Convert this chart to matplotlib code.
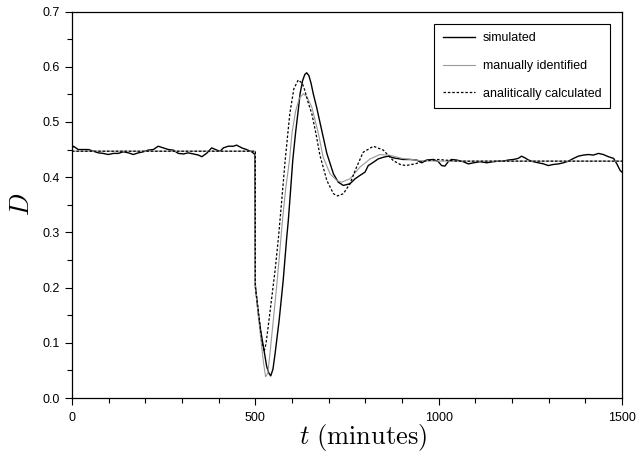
import matplotlib
matplotlib.use('Agg')
import matplotlib.pyplot as plt
from matplotlib.ticker import MultipleLocator, FormatStrFormatter

plt.rcParams['font.family'] = 'Liberation Sans'
plt.rcParams['mathtext.fontset'] = 'cm'

# simulated response
t_sim = [0, 4, 17, 31, 45, 58, 72, 85, 99, 113, 126, 140, 154, 167, 181, 195, 208, 222,
         235, 249, 263, 276, 290, 304, 317, 331, 345, 354, 367, 381, 395, 404, 413, 426,
         440, 449, 463, 476, 490, 499, 500, 508, 515, 522, 531, 537, 542, 548, 554, 565,
         576, 585, 590, 596, 602, 610, 617, 622, 629, 635, 640, 646, 652, 658, 667, 681,
         695, 713, 726, 740, 758, 772, 785, 799, 808, 822, 835, 849, 863, 876, 885, 903,
         922, 940, 954, 967, 986, 999, 1008, 1017, 1026, 1035, 1049, 1067, 1081, 1095,
         1113, 1131, 1149, 1163, 1176, 1190, 1204, 1217, 1226, 1235, 1245, 1258, 1272,
         1286, 1299, 1313, 1327, 1340, 1354, 1368, 1381, 1395, 1408, 1422, 1436, 1449,
         1463, 1477, 1486, 1495, 1500]
D_sim = [0.452, 0.456, 0.450, 0.450, 0.450, 0.447, 0.444, 0.443, 0.441, 0.443, 0.443,
         0.446, 0.444, 0.441, 0.444, 0.446, 0.449, 0.450, 0.456, 0.453, 0.450, 0.449,
         0.443, 0.442, 0.444, 0.442, 0.440, 0.437, 0.443, 0.453, 0.449, 0.447, 0.453,
         0.456, 0.456, 0.458, 0.453, 0.450, 0.446, 0.441, 0.204, 0.153, 0.120, 0.093,
         0.057, 0.045, 0.040, 0.052, 0.081, 0.141, 0.213, 0.286, 0.322, 0.375, 0.430,
         0.482, 0.521, 0.551, 0.575, 0.586, 0.589, 0.584, 0.570, 0.551, 0.527, 0.485,
         0.443, 0.406, 0.391, 0.385, 0.388, 0.397, 0.403, 0.409, 0.421, 0.427, 0.433,
         0.436, 0.438, 0.435, 0.434, 0.432, 0.432, 0.431, 0.426, 0.431, 0.432, 0.428,
         0.421, 0.420, 0.428, 0.432, 0.431, 0.428, 0.424, 0.426, 0.428, 0.426, 0.428,
         0.429, 0.429, 0.431, 0.432, 0.434, 0.438, 0.435, 0.431, 0.428, 0.426, 0.424,
         0.421, 0.423, 0.424, 0.426, 0.429, 0.434, 0.438, 0.440, 0.441, 0.440, 0.443,
         0.441, 0.437, 0.434, 0.424, 0.412, 0.409]

# manually identified model
t_man = [0, 500, 500, 508, 517, 522, 528, 534, 540, 549, 558, 567, 574, 583, 593, 600,
         610, 620, 631, 640, 654, 672, 685, 704, 722, 735, 758, 785, 813, 840, 867, 900,
         950, 1000, 1500]
D_man = [0.447, 0.447, 0.204, 0.150, 0.095, 0.065, 0.0385, 0.045, 0.081, 0.141, 0.201,
         0.268, 0.322, 0.380, 0.430, 0.480, 0.520, 0.543, 0.551, 0.546, 0.527, 0.479,
         0.436, 0.406, 0.394, 0.391, 0.397, 0.418, 0.433, 0.441, 0.4395, 0.434, 0.430,
         0.429, 0.429]

# analytically calculated response
t_an = [0, 500, 500, 508, 513, 519, 524, 529, 535, 545, 554, 563, 572, 581, 594, 605,
        617, 628, 635, 645, 654, 665, 676, 695, 713, 724, 740, 758, 776, 794, 822, 849,
        876, 895, 910, 935, 960, 1000, 1050, 1500]
D_an = [0.447, 0.447, 0.201, 0.160, 0.129, 0.100, 0.084, 0.098, 0.129, 0.183, 0.232,
        0.290, 0.358, 0.428, 0.515, 0.560, 0.576, 0.570, 0.557, 0.533, 0.515, 0.480,
        0.440, 0.394, 0.370, 0.366, 0.370, 0.388, 0.418, 0.445, 0.456, 0.449, 0.430,
        0.423, 0.421, 0.424, 0.429, 0.432, 0.429, 0.429]

fig = plt.figure(figsize=(6.36, 4.53), dpi=100)
ax = fig.add_axes([0.1132, 0.1214, 0.8648, 0.8532])

ax.plot(t_sim, D_sim, color='black', lw=1.0, label='simulated')
ax.plot(t_man, D_man, color='#999999', lw=0.8, label='manually identified')
ax.plot(t_an, D_an, color='black', lw=0.9, dashes=(2, 1.5), label='analitically calculated')

ax.set_xlim(0, 1500)
ax.set_ylim(0, 0.7)
ax.xaxis.set_major_locator(MultipleLocator(500))
ax.xaxis.set_minor_locator(MultipleLocator(100))
ax.yaxis.set_major_locator(MultipleLocator(0.1))
ax.yaxis.set_minor_locator(MultipleLocator(0.05))
ax.yaxis.set_major_formatter(FormatStrFormatter('%.1f'))
ax.tick_params(which='major', direction='out', length=5, width=0.8, labelsize=9)
ax.tick_params(axis='x', which='major', pad=5)
ax.tick_params(which='minor', direction='out', length=3.5, width=0.8)
for s in ax.spines.values():
    s.set_linewidth(0.9)

ax.set_xlabel(r'$t\ (\mathrm{minutes})$', fontsize=19)
ax.xaxis.set_label_coords(0.53, -0.062, transform=ax.transAxes)
ax.xaxis.label.set_va('top')
ax.set_ylabel(r'$D$', fontsize=19, labelpad=6)

leg = ax.legend(loc='upper right', bbox_to_anchor=(0.99, 0.985), fontsize=9,
                labelspacing=1.25, handlelength=2.6, handletextpad=0.6,
                borderpad=0.7, fancybox=False, framealpha=1, edgecolor='black')
leg.get_frame().set_linewidth(0.8)

fig.savefig('out.png', dpi=100)
